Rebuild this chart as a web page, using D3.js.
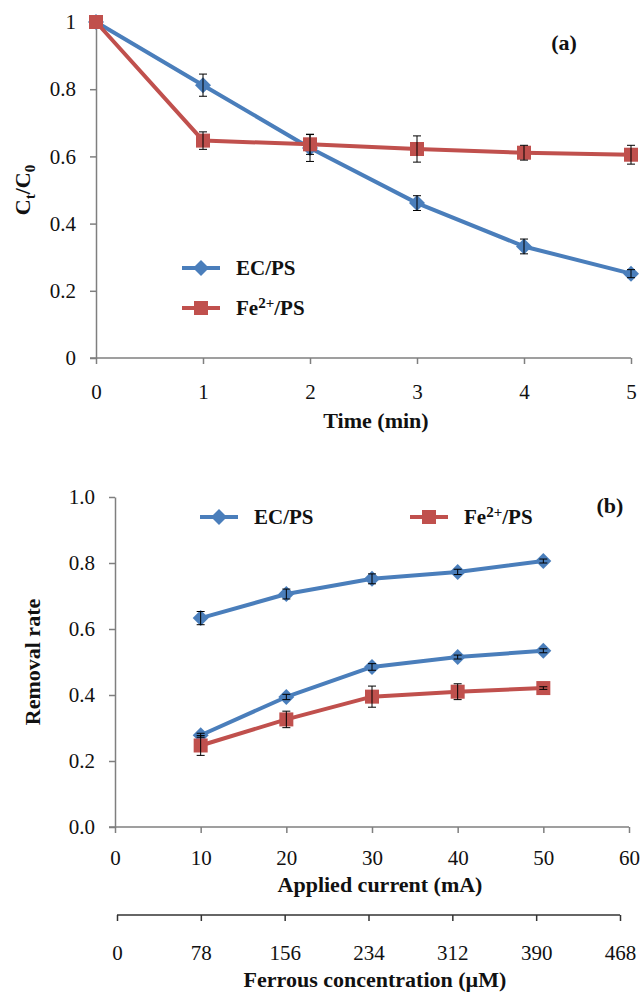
<!DOCTYPE html>
<html>
<head>
<meta charset="utf-8">
<script src="https://cdn.jsdelivr.net/npm/d3@7"></script>
<style>
body { margin: 0; background: #fff; }
.axis path, .axis line { stroke: #7f7f7f; stroke-width: 1.5; }
.axis text { font-size: 21px; fill: #111; font-family: "Liberation Serif", "Times New Roman", serif; }
.lbl { font-family: "Liberation Serif", "Times New Roman", serif; font-size: 22px; font-weight: bold; fill: #111; }
.leg { font-size: 21px; }
</style>
</head>
<body>
<script>
// panel (a)
var timeMin = [0, 1, 2, 3, 4, 5];
var ecPsA = [1, 0.812, 0.625, 0.461, 0.332, 0.251];
var ecPsAErr = [0, 0.033, 0.04, 0.022, 0.022, 0.012];
var fePsA = [1, 0.647, 0.636, 0.622, 0.611, 0.605];
var fePsAErr = [0, 0.026, 0.03, 0.039, 0.022, 0.028];
var yTicksA = [0, 0.2, 0.4, 0.6, 0.8, 1];

// panel (b)
var current = [10, 20, 30, 40, 50];
var ecPsHigh = [0.633, 0.706, 0.752, 0.773, 0.806];
var ecPsHighErr = [0.02, 0.015, 0.015, 0.008, 0.006];
var ecPsLow = [0.278, 0.394, 0.485, 0.515, 0.534];
var ecPsLowErr = [0.006, 0.008, 0.01, 0.006, 0.006];
var fePsB = [0.247, 0.326, 0.395, 0.41, 0.421];
var fePsBErr = [0.03, 0.025, 0.032, 0.024, 0.004];
var currentTicks = [0, 10, 20, 30, 40, 50, 60];
var ferrousTicks = [0, 78, 156, 234, 312, 390, 468];
var yTicksB = [0, 0.2, 0.4, 0.6, 0.8, 1.0];

var blue = "#4a7ebb", red = "#c0504d";
var w = 641, h = 994;

var svg = d3.select("body").append("svg")
    .attr("width", w)
    .attr("height", h);

function diamond(g, x, y) {
    var r = 8;
    g.append("path")
        .attr("d", "M" + x + "," + (y - r) + "L" + (x + r) + "," + y + "L" + x + "," + (y + r) + "L" + (x - r) + "," + y + "Z")
        .attr("fill", blue);
}
function square(g, x, y) {
    g.append("rect")
        .attr("x", x - 7).attr("y", y - 7)
        .attr("width", 14).attr("height", 14)
        .attr("fill", red);
}

function drawSeries(g, xs, ys, errs, x, y, color, marker) {
    var pts = xs.map(function(d, i) { return [x(d), y(ys[i])]; });
    g.append("path")
        .attr("d", d3.line()(pts))
        .attr("fill", "none")
        .attr("stroke", color)
        .attr("stroke-width", 4)
        .attr("stroke-linejoin", "round");
    pts.forEach(function(p) { marker(g, p[0], p[1]); });
    var eb = g.append("g").attr("stroke", "#000").attr("stroke-width", 1);
    xs.forEach(function(d, i) {
        if (!errs[i]) return;
        var cx = x(d), y1 = y(ys[i] - errs[i]), y2 = y(ys[i] + errs[i]);
        eb.append("line").attr("x1", cx).attr("x2", cx).attr("y1", y1).attr("y2", y2);
        eb.append("line").attr("x1", cx - 4).attr("x2", cx + 4).attr("y1", y1).attr("y2", y1);
        eb.append("line").attr("x1", cx - 4).attr("x2", cx + 4).attr("y1", y2).attr("y2", y2);
    });
}

function legendItem(g, x, y, label, color, marker, sup) {
    g.append("line")
        .attr("x1", x).attr("x2", x + 38)
        .attr("y1", y).attr("y2", y)
        .attr("stroke", color).attr("stroke-width", 4);
    marker(g, x + 19, y);
    var t = g.append("text").attr("class", "lbl leg")
        .attr("x", x + 54).attr("y", y + 7);
    if (sup) {
        t.append("tspan").text("Fe");
        t.append("tspan").attr("dy", -7).attr("font-size", 15).text("2+");
        t.append("tspan").attr("dy", 7).text("/PS");
    } else {
        t.text(label);
    }
}

// ---------- panel (a) ----------
var xA = d3.scaleLinear().domain([0, 5]).range([96, 631]);
var yA = d3.scaleLinear().domain([0, 1]).range([358, 22]);

svg.append("g").attr("class", "axis")
    .attr("transform", "translate(0," + yA(0) + ")")
    .call(d3.axisBottom(xA).tickValues(timeMin).tickFormat(d3.format("d")).tickSize(6).tickSizeOuter(0).tickPadding(20))
    .call(function(g) { g.select(".domain").attr("d", "M" + (xA(0) - 6) + ",0H" + xA(5)); });
svg.append("g").attr("class", "axis")
    .attr("transform", "translate(" + xA(0) + ",0)")
    .call(d3.axisLeft(yA).tickValues(yTicksA).tickFormat(d3.format("")).tickSize(6).tickSizeOuter(0).tickPadding(14));

var ga = svg.append("g");
drawSeries(ga, timeMin, ecPsA, ecPsAErr, xA, yA, blue, diamond);
drawSeries(ga, timeMin, fePsA, fePsAErr, xA, yA, red, square);

legendItem(svg, 182, 268, "EC/PS", blue, diamond, false);
legendItem(svg, 182, 308, "", red, square, true);

svg.append("text").attr("class", "lbl")
    .attr("x", 376).attr("y", 428)
    .attr("text-anchor", "middle")
    .text("Time (min)");

var ylA = svg.append("text").attr("class", "lbl")
    .attr("transform", "translate(30,190) rotate(-90)")
    .attr("text-anchor", "middle");
ylA.append("tspan").text("C");
ylA.append("tspan").attr("dy", 5).attr("font-size", 15).text("t");
ylA.append("tspan").attr("dy", -5).text("/C");
ylA.append("tspan").attr("dy", 5).attr("font-size", 15).text("0");

svg.append("text").attr("class", "lbl")
    .attr("x", 564).attr("y", 50)
    .attr("text-anchor", "middle")
    .attr("font-size", 25)
    .text("(a)");

// ---------- panel (b) ----------
var xB = d3.scaleLinear().domain([0, 60]).range([115, 629]);
var yB = d3.scaleLinear().domain([0, 1]).range([827, 497]);
var xC = d3.scaleLinear().domain([0, 468]).range([117, 620]);

svg.append("g").attr("class", "axis")
    .attr("transform", "translate(0," + yB(0) + ")")
    .call(d3.axisBottom(xB).tickValues(currentTicks).tickSize(6).tickSizeOuter(0).tickPadding(17))
    .call(function(g) { g.select(".domain").attr("d", "M" + (xB(0) - 6) + ",0H" + xB(60)); });
svg.append("g").attr("class", "axis")
    .attr("transform", "translate(" + xB(0) + ",0)")
    .call(d3.axisLeft(yB).tickValues(yTicksB).tickFormat(d3.format(".1f")).tickSize(6).tickSizeOuter(0).tickPadding(14));

var gc = svg.append("g").attr("class", "axis")
    .attr("transform", "translate(0,915)")
    .call(d3.axisBottom(xC).tickValues(ferrousTicks).tickSize(6).tickSizeOuter(0).tickPadding(24));
gc.select(".domain").attr("d", "M" + xC(0) + ",0H" + xC(468)).style("stroke", "#333");
gc.selectAll(".tick line").style("stroke", "#333");

var gb = svg.append("g");
drawSeries(gb, current, ecPsHigh, ecPsHighErr, xB, yB, blue, diamond);
drawSeries(gb, current, ecPsLow, ecPsLowErr, xB, yB, blue, diamond);
drawSeries(gb, current, fePsB, fePsBErr, xB, yB, red, square);

legendItem(svg, 200, 517, "EC/PS", blue, diamond, false);
legendItem(svg, 410, 517, "", red, square, true);

svg.append("text").attr("class", "lbl")
    .attr("x", 380).attr("y", 892)
    .attr("text-anchor", "middle")
    .text("Applied current (mA)");
svg.append("text").attr("class", "lbl")
    .attr("x", 375).attr("y", 987)
    .attr("text-anchor", "middle")
    .text("Ferrous concentration (\u00b5M)");
svg.append("text").attr("class", "lbl")
    .attr("transform", "translate(40,662) rotate(-90)")
    .attr("text-anchor", "middle")
    .text("Removal rate");
svg.append("text").attr("class", "lbl")
    .attr("x", 610).attr("y", 513)
    .attr("text-anchor", "middle")
    .attr("font-size", 25)
    .text("(b)");
</script>
</body>
</html>
